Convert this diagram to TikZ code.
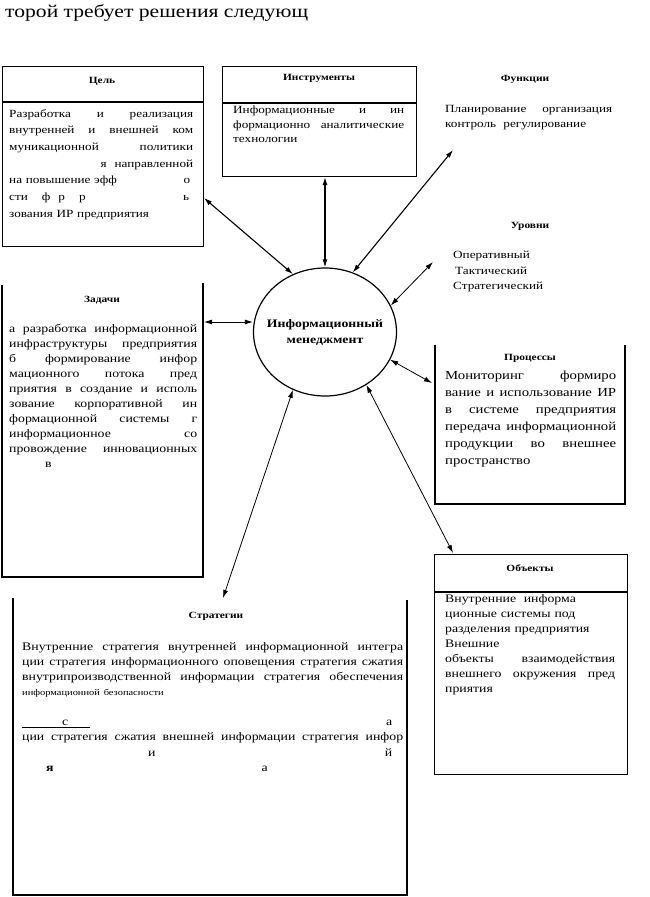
\documentclass[tikz,border=0pt]{standalone}
\usepackage{fontspec}
\setmainfont{Liberation Serif}[FakeStretch=1.2]
\usetikzlibrary{arrows.meta,shapes.geometric}

\tikzset{
  frame/.style={line width=1.1pt},
  ttl/.style={font=\bfseries\fontsize{9.5}{11}\selectfont, inner sep=0pt},
  txt/.style={inner sep=0pt, anchor=north west, align=left},
  link/.style={{Latex[length=8pt,width=5pt]}-{Latex[length=8pt,width=5pt]}, line width=1.1pt},
  thin link/.style={link, line width=0.8pt}
}
\newcommand{\jl}[1]{\makebox[\linewidth][s]{\spaceskip=.3333em plus 30em\relax #1}}

\begin{document}
\begin{tikzpicture}[x=1pt,y=-1pt]
\useasboundingbox (0,0) rectangle (650,897);
% heading fragment
\node[anchor=base west, inner sep=0pt, font=\fontsize{18}{22}\selectfont] (head) at (5,17) {торой требует решения следующ};

% goal
\node[frame, draw, anchor=north west, minimum width=201, minimum height=180] (goal) at (2,66) {};
\draw[frame] (2,102) -- (203,102);
\node[ttl] (goalt) at (102,81) {Цель};
\node[txt, text width=184, font=\fontsize{11}{16.7}\selectfont] (goaltx) at (9,109) {%
\jl{Разработка и реализация}\\
\jl{внутренней и внешней ком}\\
\jl{муникационной политики}\\
\jl{\hfill я\hspace*{8pt}направленной}\\
\jl{на повышение эфф\hfill о\hspace*{3pt}}\\
\jl{сти\hspace*{14pt}ф\hspace*{8pt}р\hspace*{14pt}р\hfill ь\hspace*{4pt}}\\
\jl{зования ИР предприятия\hfill}};

% tools
\node[frame, draw, anchor=north west, minimum width=194, minimum height=110] (tools) at (222,66) {};
\draw[frame] (222,103) -- (416,103);
\node[ttl] (toolst) at (319,78) {Инструменты};
\node[txt, text width=171, font=\fontsize{11}{14.5}\selectfont] (toolstx) at (233,106) {%
\jl{Информационные и ин}\\
\jl{формационно аналитические}\\
\jl{технологии\hfill}};

% functions
\node[ttl] (funct) at (525,79) {Функции};
\node[txt, text width=167, font=\fontsize{11}{15.5}\selectfont] (functx) at (445,105) {%
\jl{Планирование организация}\\
\jl{контроль\ \ регулирование\hfill}};

% levels
\node[ttl] (levt) at (530,226) {Уровни};
\node[txt, font=\fontsize{11}{15.5}\selectfont] (levtx) at (453,251) {%
Оперативный\\
\hspace*{2pt}Тактический\\
Стратегический};

% tasks
\draw[frame] (2,285) -- (2,577) -- (203,577) -- (203,283);
\node[ttl] (taskt) at (102,300) {Задачи};
\node[txt, text width=188, font=\fontsize{11.5}{15}\selectfont] (tasktx) at (9,324) {%
\jl{а разработка информационной}\\
\jl{инфраструктуры предприятия}\\
\jl{б формирование инфор}\\
\jl{мационного потока пред}\\
\jl{приятия в создание и исполь}\\
\jl{зование корпоративной ин}\\
\jl{формационной системы г}\\
\jl{информационное со}\\
\jl{провождение инновационных}\\
\jl{\hspace*{36pt}в\hfill}};

% processes
\draw[frame] (435,345) -- (435,504) -- (625,504) -- (625,345);
\node[ttl] (proct) at (530,358) {Процессы};
\node[txt, text width=171, font=\fontsize{12.3}{17}\selectfont] (proctx) at (445,371) {%
\jl{Мониторинг формиро}\\
\jl{вание и использование ИР}\\
\jl{в системе предприятия}\\
\jl{передача информационной}\\
\jl{продукции во внешнее}\\
\jl{пространство\hfill}};

% objects
\node[frame, draw, anchor=north west, minimum width=193, minimum height=220] (obj) at (434,554) {};
\draw[frame] (434,592) -- (627,592);
\node[ttl] (objt) at (530,568) {Объекты};
\node[txt, text width=170, font=\fontsize{11.5}{15}\selectfont] (objtx) at (445,594) {%
\jl{Внутренние\ \ информа\hfill}\\
\jl{ционные системы под\hfill}\\
\jl{разделения предприятия\hfill}\\
\jl{Внешние\hfill}\\
\jl{объекты взаимодействия}\\
\jl{внешнего окружения пред}\\
\jl{приятия\hfill}};

% strategies
\draw[frame] (13,598) -- (13,895) -- (407,895) -- (407,600);
\node[ttl] (stratt) at (216,616) {Стратегии};
\node[txt, text width=381, font=\fontsize{11.5}{15}\selectfont] (strattx) at (22,642) {%
\jl{Внутренние стратегия внутренней информационной интегра}\\
\jl{ции стратегия информационного оповещения стратегия сжатия}\\
\jl{внутрипроизводственной информации стратегия обеспечения}\\
\jl{{\fontsize{8.7}{15}\selectfont информационной безопасности}\hfill}};
\node[txt, text width=381, font=\fontsize{11.5}{15.3}\selectfont] (stratlow) at (22,720) {%
\jl{\underline{\hbox to 68pt{\hfill с\hspace*{22pt}}}\hfill а\hspace*{11pt}}\\
\jl{ции стратегия сжатия внешней информации стратегия инфор}\\
\jl{\hspace*{126pt}и\hfill й\hspace*{11pt}}\\
\jl{\hspace*{24pt}\textbf{я}\hspace*{208pt}а\hfill}};

% centre
\node[draw, ellipse, line width=1.2pt, inner sep=0pt, minimum width=143, minimum height=128] (im) at (325,332) {};
\node[inner sep=0pt, align=center, font=\bfseries\fontsize{11.5}{16}\selectfont] (imtext) at (325,333) {Информационный\\менеджмент};

% links
\coordinate (goalA) at (204,198);
\coordinate (funcA) at (453,150);
\coordinate (levA) at (433,262);
\coordinate (taskA) at (204,322);
\coordinate (procA) at (432,383);
\coordinate (objA) at (453,553);
\coordinate (stratA) at (223,598);
\draw[link] (goalA) -- (im.119);
\draw[link] (im.north |- tools.south) -- (im.north);
\draw[link] (funcA) -- (im.65);
\draw[thin link] (levA) -- (im.22);
\draw[thin link] (taskA) -- (im.west |- taskA);
\draw[thin link] (im.-23) -- (procA);
\draw[thin link] (im.-52) -- (objA);
\draw[thin link] (im.-119) -- (stratA);
\end{tikzpicture}
\end{document}
